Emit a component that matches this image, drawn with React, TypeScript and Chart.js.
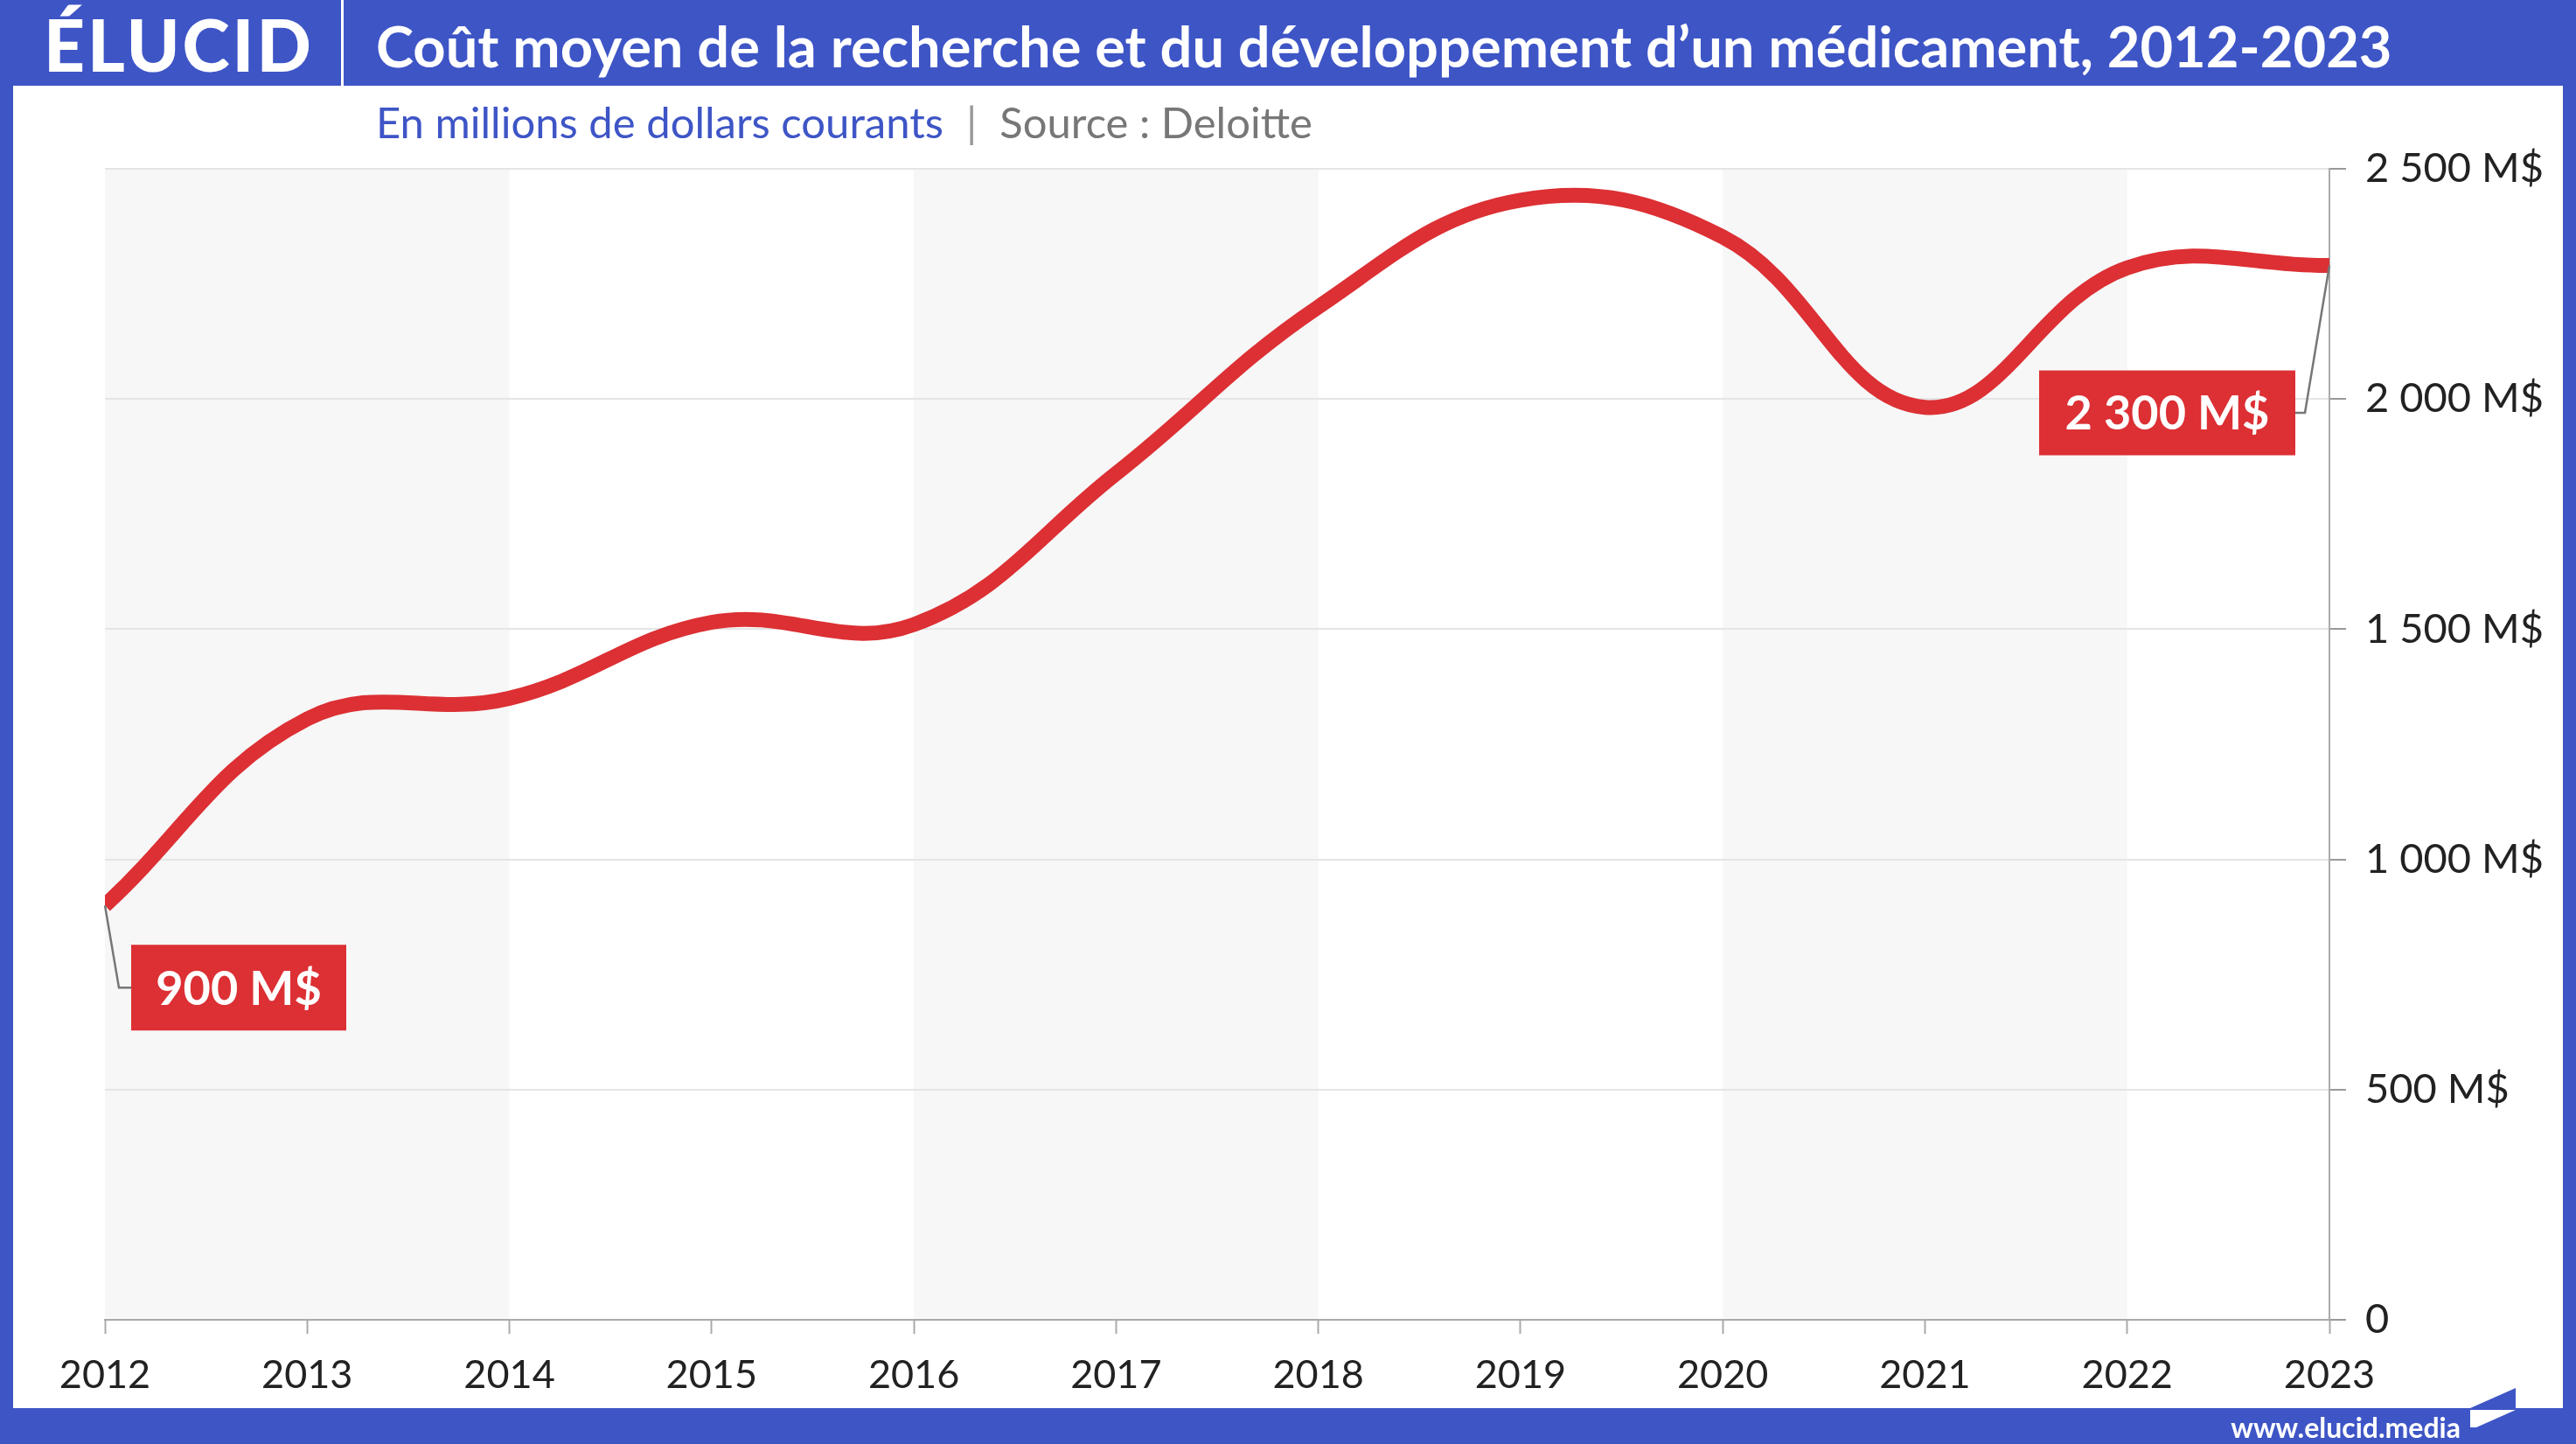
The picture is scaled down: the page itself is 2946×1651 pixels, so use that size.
import React, { useEffect, useRef } from 'react';
import { Chart, registerables } from 'chart.js';

Chart.register(...registerables);

// ---- Data ----
const years = ['2012', '2013', '2014', '2015', '2016', '2017', '2018', '2019', '2020', '2021', '2022', '2023'];
const costs = [900, 1305, 1350, 1515, 1510, 1838, 2200, 2432, 2352, 1982, 2285, 2290];
const yTickValues = [0, 500, 1000, 1500, 2000, 2500];
const yTickLabels = ['0', '500 M$', '1 000 M$', '1 500 M$', '2 000 M$', '2 500 M$'];
const shadedBands: [number, number][] = [[0, 2], [4, 6], [8, 10]];
const labelTexts = ['900 M$', '2 300 M$'];

const BLUE = '#3e55c6';
const RED = '#dc3034';
const FONT = 'Lato, "Open Sans", sans-serif';

const bandPlugin = {
  id: 'bands',
  beforeDraw(chart: any) {
    const { ctx, chartArea, scales } = chart;
    ctx.save();
    ctx.fillStyle = '#f7f7f7';
    shadedBands.forEach(([a, b]) => {
      const x0 = scales.x.getPixelForValue(a);
      const x1 = scales.x.getPixelForValue(b);
      ctx.fillRect(x0, chartArea.top, x1 - x0, chartArea.bottom - chartArea.top);
    });
    ctx.restore();
  },
};

const labelPlugin = {
  id: 'endLabels',
  afterDatasetsDraw(chart: any) {
    const { ctx } = chart;
    const pts = chart.getDatasetMeta(0).data;
    const first = pts[0];
    const last = pts[pts.length - 1];
    ctx.save();
    ctx.strokeStyle = '#777';
    ctx.lineWidth = 2.5;
    ctx.font = `bold 54px ${FONT}`;
    ctx.textAlign = 'center';
    ctx.textBaseline = 'middle';
    // first label
    {
      const px = first.x, py = first.y;
      const bx = px + 30, by = py + 45, bw = 246, bh = 98;
      ctx.beginPath();
      ctx.moveTo(px, py);
      ctx.lineTo(px + 16, by + bh / 2);
      ctx.lineTo(bx, by + bh / 2);
      ctx.stroke();
      ctx.fillStyle = RED;
      ctx.fillRect(bx, by, bw, bh);
      ctx.fillStyle = '#fff';
      ctx.fillText(labelTexts[0], bx + bw / 2, by + bh / 2 + 2);
    }
    // last label
    {
      const px = last.x, py = last.y;
      const bw = 293, bh = 97;
      const bx = px - 332, by = py + 120;
      ctx.beginPath();
      ctx.moveTo(bx + bw, by + bh / 2);
      ctx.lineTo(bx + bw + 11, by + bh / 2);
      ctx.lineTo(px, py);
      ctx.stroke();
      ctx.fillStyle = RED;
      ctx.fillRect(bx, by, bw, bh);
      ctx.fillStyle = '#fff';
      ctx.fillText(labelTexts[1], bx + bw / 2, by + bh / 2 + 2);
    }
    ctx.restore();
  },
};

export default function App() {
  const canvasRef = useRef<HTMLCanvasElement | null>(null);

  useEffect(() => {
    document.body.style.margin = '0';
    const canvas = canvasRef.current;
    if (!canvas) return;
    const chart = new Chart(canvas, {
      type: 'line',
      data: {
        labels: years,
        datasets: [
          {
            data: costs,
            borderColor: RED,
            borderWidth: 17,
            pointRadius: 0,
            tension: 0.4,
            fill: false,
            clip: 0,
            borderCapStyle: 'butt',
          } as any,
        ],
      },
      options: {
        animation: false,
        responsive: false,
        maintainAspectRatio: false,
        devicePixelRatio: 1,
        layout: { padding: { left: 120, top: 193, right: 0, bottom: 0 } },
        plugins: { legend: { display: false }, tooltip: { enabled: false }, title: { display: false } },
        scales: {
          x: {
            offset: false,
            grid: { drawOnChartArea: false, drawTicks: true, tickLength: 16, tickColor: '#aaa', tickWidth: 2 },
            border: { display: true, color: '#aaa', width: 2 },
            ticks: { font: { family: FONT, size: 45 }, color: '#222', padding: 20, maxRotation: 0, autoSkip: false },
            afterFit(s: any) { s.height = 142; },
          },
          y: {
            position: 'right',
            min: 0,
            max: 2500,
            afterBuildTicks(s: any) { s.ticks = yTickValues.map((v) => ({ value: v })); },
            grid: {
              color: (c: any) => (c.tick && c.tick.value === 0 ? '#aaa' : '#e5e5e5'),
              lineWidth: 2,
              tickColor: '#999',
              tickLength: 19,
              tickWidth: 2,
            },
            border: { display: true, color: '#aaa', width: 2 },
            ticks: {
              callback: (v: any) => yTickLabels[yTickValues.indexOf(Number(v))],
              font: { family: FONT, size: 47 },
              color: '#222',
              padding: 22,
            },
            afterFit(s: any) { s.width = 282; },
          },
        },
      },
      plugins: [bandPlugin, labelPlugin],
    });
    return () => chart.destroy();
  }, []);

  return (
    <div style={{ position: 'fixed', left: 0, top: 0, width: 2946, height: 1651, background: BLUE, overflow: 'hidden', fontFamily: FONT }}>
      <div style={{ position: 'absolute', left: 15, top: 98, width: 2916, height: 1512, background: '#fff' }} />
      <div style={{ position: 'absolute', left: 50, top: 0, height: 98, lineHeight: '100px', fontSize: 82, fontWeight: 900, color: '#fff', letterSpacing: 3 }}>ÉLUCID</div>
      <div style={{ position: 'absolute', left: 390, top: 0, width: 3, height: 98, background: '#fff' }} />
      <div style={{ position: 'absolute', left: 430, top: 3, height: 98, lineHeight: '98px', fontSize: 65, fontWeight: 700, color: '#fff', whiteSpace: 'nowrap' }}>
        Coût moyen de la recherche et du développement d’un médicament, 2012-2023
      </div>
      <div style={{ position: 'absolute', left: 430, top: 108, lineHeight: '62px', fontSize: 49, whiteSpace: 'nowrap' }}>
        <span style={{ color: BLUE }}>En millions de dollars courants</span>
        <span style={{ color: '#999', margin: '0 26px' }}>|</span>
        <span style={{ color: '#777' }}>Source : Deloitte</span>
      </div>
      <canvas ref={canvasRef} width={2946} height={1651} style={{ position: 'absolute', left: 0, top: 0, width: 2946, height: 1651 }} />
      <div style={{ position: 'absolute', right: 132, top: 1611, lineHeight: '42px', fontSize: 32, fontWeight: 700, color: '#fff', whiteSpace: 'nowrap' }}>www.elucid.media</div>
      <svg style={{ position: 'absolute', left: 0, top: 0 }} width={2946} height={1651}>
        <polygon points="2825,1610 2877,1587 2877,1610" fill={BLUE} />
        <polygon points="2825,1612 2877,1612 2832,1632 2825,1632" fill="#fff" />
      </svg>
    </div>
  );
}
